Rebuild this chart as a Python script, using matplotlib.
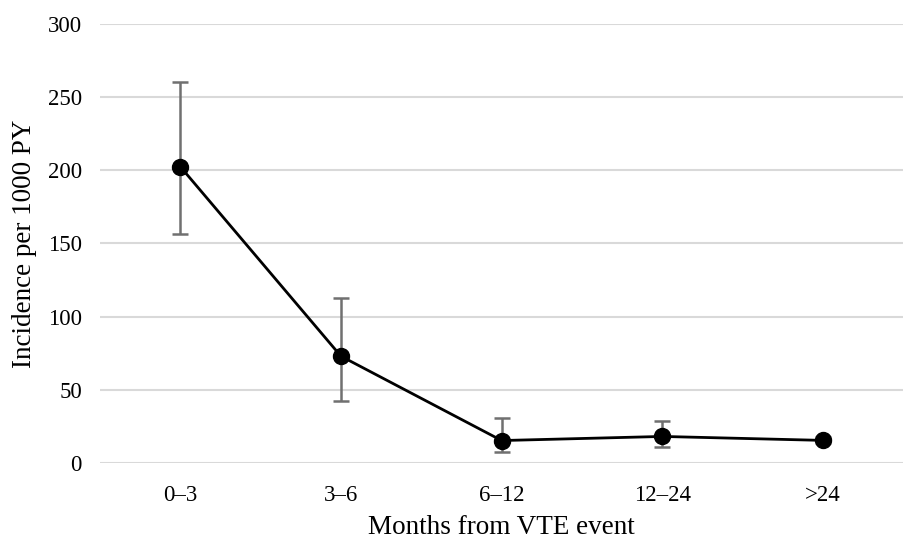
import matplotlib.pyplot as plt

# Données
periods = ['0–3', '3–6', '6–12', '12–24', '>24']
incidence = [202.5, 73.0, 15.4, 18.2, 15.5]
ci_low = [156.5, 42.5, 7.5, 11.0, 13.5]
ci_high = [260.5, 113.0, 31.0, 29.0, 17.5]

plt.rcParams['font.family'] = ['Liberation Serif', 'DejaVu Serif']

fig = plt.figure(figsize=(9.08, 5.41), dpi=100)
ax = fig.add_axes([0.11, 0.144, 0.885, 0.812])

x = list(range(len(periods)))
err = [[v - l for v, l in zip(incidence, ci_low)],
       [h - v for v, h in zip(incidence, ci_high)]]

ax.errorbar(x, incidence, yerr=err, fmt='none', ecolor='#707070',
            elinewidth=1.8, capsize=6, capthick=1.8, zorder=2)
ax.plot(x, incidence, color='black', linewidth=2, marker='o',
        markersize=11.5, zorder=3)

ax.set_xlim(-0.5, len(periods) - 0.5)
ax.set_ylim(0, 300)
ax.set_yticks(range(0, 301, 50))
ax.set_xticks(x)
ax.set_xticklabels(periods)
ax.grid(axis='y', color='#d9d9d9', linewidth=1.5)
ax.set_axisbelow(True)
for s in ax.spines.values():
    s.set_visible(False)
ax.tick_params(length=0, labelsize=16.5)
ax.tick_params(axis='y', pad=13)
ax.tick_params(axis='x', pad=16)

ax.set_xlabel('Months from VTE event', fontsize=19.5, labelpad=6)
ax.set_ylabel('Incidence per 1000 PY', fontsize=19.5, labelpad=8)

fig.savefig('out.png', dpi=100)
